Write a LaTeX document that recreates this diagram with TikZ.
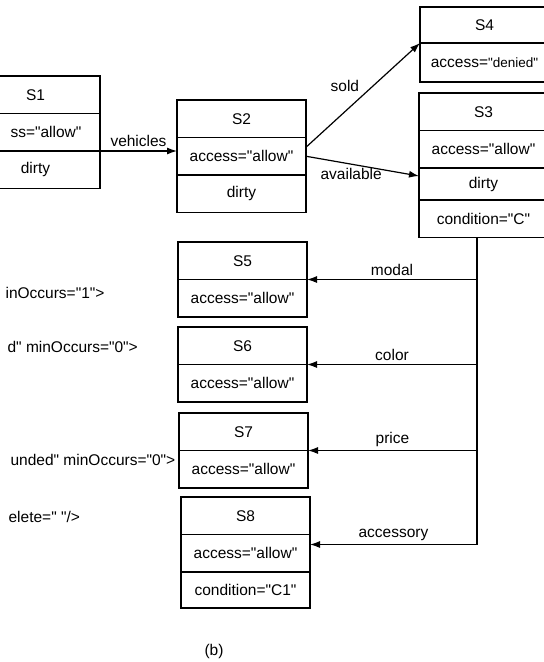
\documentclass[tikz,border=0pt]{standalone}
\usepackage{fontspec}
\setmainfont{Liberation Sans}[Ligatures=TeXOff]
\usetikzlibrary{positioning,arrows.meta}
\tikzset{
  row/.style={draw, minimum width=129pt, minimum height=37.5pt, inner sep=0pt, outer sep=0pt},
  tip/.style={-{Latex[length=10pt,width=7pt]}},
  xml/.style={anchor=west, inner sep=0pt},
}
\begin{document}
\begin{tikzpicture}[x=1pt,y=-1pt,line width=1.2pt,font=\fontsize{15.5}{18}\selectfont]
\clip (0,0) rectangle (544,662);
% S1 runs off the left edge
\node[row,anchor=north west] (t1) at (-29,76) {S1};
\node[row,below=0pt of t1] (a1) {};
\node[row,below=0pt of a1] (d1) {dirty};
\node[anchor=east, inner sep=0pt] (a1txt) at (82,132) {ss="allow"};
% S2
\node[row,anchor=north west] (t2) at (177,100) {S2};
\node[row,below=0pt of t2] (a2) {access="allow"};
\node[row,below=0pt of a2] (d2) {dirty};
% S4 and S3 run off the right edge
\node[row,anchor=north west,minimum height=36pt] (t4) at (420,7) {S4};
\node[row,below=0pt of t4,minimum height=39pt] (a4) {access={\fontsize{13.5}{16}\selectfont"denied"}};
\node[row,anchor=north west] (t3) at (419,93) {S3};
\node[row,below=0pt of t3] (a3) {access="allow"};
\node[row,below=0pt of a3,minimum height=32pt] (d3) {dirty};
\node[row,below=0pt of d3] (c3) {condition="C"};
% S5 to S8
\foreach \n/\x/\y in {5/178/242, 6/178/327, 7/179/413, 8/181/497} {
  \node[row,anchor=north west] (t\n) at (\x,\y) {S\n};
  \node[row,below=0pt of t\n] (a\n) {access="allow"};
}
\node[row,below=0pt of a8,minimum height=36pt] (c8) {condition="C1"};
% xml text cut at the left edge
\node[xml] (x1) at (5,293) {inOccurs="1">};
\node[xml] (x2) at (7,347) {d" minOccurs="0">};
\node[xml] (x3) at (10,460) {unded" minOccurs="0">};
\node[xml] (x4) at (8,517) {elete=" "/>};
% links
\draw[tip] (a1.south west) -- (a1.south east) -- node[above]{vehicles} (a1.south west -| a2.west);
\draw[tip] ([yshift=9pt]a2.east) -- node[above left]{sold} (t4.south west);
\draw[tip] (a2.east) -- node[below,pos=.4]{available} ([yshift=-8pt]a3.south west);
\coordinate (tr) at ([xshift=-6.5pt]c3.south);
\draw[tip] (tr) |- node[above,pos=.75]{accessory} ([yshift=-10pt]a8.north east);
\foreach \n/\l in {5/modal, 6/color, 7/price}
  \draw[tip] (tr |- t\n.south east) -- node[above]{\l} (t\n.south east);
\node (cap) at (214,651) {(b)};
\end{tikzpicture}
\end{document}
